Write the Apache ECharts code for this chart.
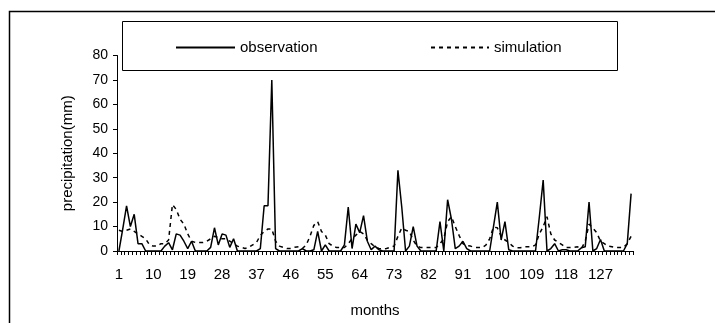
<!DOCTYPE html>
<html>
<head>
<meta charset="utf-8">
<script src="https://cdn.jsdelivr.net/npm/echarts@6/dist/echarts.min.js"></script>
<style>
  html, body { margin: 0; padding: 0; background: #fff; }
  #chart { width: 715px; height: 323px; }
</style>
</head>
<body>
<div id="chart"></div>
<script>
// monthly precipitation, months 1..135
var months = [];
for (var m = 1; m <= 135; m++) months.push(String(m));

var observation = [
    0, 9, 18.5, 10, 15, 3, 3, 0, 0, 0,
    0, 0, 2, 3.4, 0.5, 7, 6.5, 4, 1, 4,
    0, 0, 0, 0, 1.5, 9.5, 2.5, 7, 6.5, 1.5,
    5, 0, 0, 0, 0, 0, 0, 1, 18.5, 18.5,
    70, 1, 0, 0, 0, 0, 0, 0, 1, 0,
    0, 0.5, 8, 0, 2.5, 0, 0, 0, 0, 2.5,
    18, 1, 11, 7.5, 14.5, 4, 0.5, 2, 0.5, 0,
    0, 0, 0, 33, 18, 0, 2, 10, 2, 0,
    0, 0, 0, 0, 12, 0, 21, 13, 1, 2,
    4, 1, 0, 0, 0, 0, 0, 0, 10, 20,
    4.5, 12, 0.5, 0, 0, 0, 0, 0, 0, 0,
    14, 29, 0, 1, 3, 0, 0.5, 0.5, 0, 0,
    0, 1.3, 1.7, 20, 0, 1, 4.7, 0, 0, 0,
    0, 0, 0, 3, 23.5
];

var simulation = [
    8.5, 8, 8.5, 9, 8, 7, 6, 5, 2.5, 2,
    2, 3, 3, 4.5, 19, 17, 13, 11, 7, 4,
    3.5, 3.5, 3.5, 4, 5, 6, 5.5, 5, 5, 4,
    3, 2, 1.5, 1, 1.5, 2.5, 3.5, 6.4, 8, 9,
    9, 4, 2, 1.5, 1, 1, 1.5, 1.7, 1, 2.5,
    6, 10.5, 12, 8, 6.5, 3, 2, 1.4, 1.4, 1.4,
    3, 5, 6.5, 8, 7, 4.4, 3, 1.7, 1, 0.8,
    1, 1.5, 2, 6, 9.4, 8.5, 8, 4.4, 2, 1.4,
    1.4, 1.4, 1.4, 1.4, 3, 5, 12, 14, 10, 6.4,
    3, 2.2, 2, 1.5, 1.4, 1.4, 2.4, 5, 9.8, 9.5,
    6, 4.5, 3.5, 2, 1.3, 1.3, 1.7, 1.7, 1.7, 2.5,
    7, 10, 14, 7, 4.5, 3.5, 2.5, 1.4, 1.4, 1.5,
    1.7, 1, 4, 11, 9.4, 7.5, 4, 3, 2, 1.7,
    1.4, 1.4, 1.4, 3, 6
];

var chartDom = document.getElementById('chart');
var myChart = echarts.init(chartDom, null, { renderer: 'canvas' });
var font = 'Liberation Sans, Arial, sans-serif';

var option = {
    animation: false,
    backgroundColor: '#fff',
    textStyle: { fontFamily: font, color: '#000' },
    graphic: [
        {
            type: 'rect',
            shape: { x: 9.5, y: 11.5, width: 800, height: 400 },
            style: { fill: 'none', stroke: '#000', lineWidth: 1.5 },
            z: 0
        },
        {
            type: 'rect',
            shape: { x: 122.5, y: 21.5, width: 495, height: 49 },
            style: { fill: '#fff', stroke: '#000', lineWidth: 1 },
            z: 10
        }
    ],
    legend: [
        {
            data: ['observation'],
            left: 170,
            top: 35,
            itemWidth: 59,
            itemHeight: 14,
            z: 20,
            itemStyle: { opacity: 0 },
            textStyle: { fontFamily: font, fontSize: 15, color: '#000' }
        },
        {
            data: ['simulation'],
            left: 425,
            top: 35,
            itemWidth: 58,
            itemHeight: 14,
            z: 20,
            itemStyle: { opacity: 0 },
            textStyle: { fontFamily: font, fontSize: 15, color: '#000' }
        }
    ],
    grid: {
        left: 117,
        right: 82,
        top: 55.5,
        bottom: 70.5
    },
    xAxis: {
        type: 'category',
        data: months,
        boundaryGap: true,
        name: 'months',
        nameLocation: 'middle',
        nameGap: 52,
        nameTextStyle: { fontFamily: font, fontSize: 15, color: '#000' },
        axisLine: { lineStyle: { color: '#000', width: 1 } },
        axisTick: { show: true, interval: 0, length: 4, lineStyle: { color: '#000' } },
        axisLabel: {
            interval: 8,
            margin: 16,
            fontFamily: font,
            fontSize: 15,
            color: '#000'
        },
        splitLine: { show: false }
    },
    yAxis: {
        type: 'value',
        min: 0,
        max: 80,
        interval: 10,
        name: 'precipitation(mm)',
        nameLocation: 'middle',
        nameGap: 42,
        nameRotate: 90,
        nameTextStyle: { fontFamily: font, fontSize: 15, color: '#000' },
        axisLine: { show: true, lineStyle: { color: '#000', width: 1 } },
        axisTick: { show: true, length: 4, lineStyle: { color: '#000' } },
        axisLabel: { margin: 9, fontFamily: font, fontSize: 14, color: '#000' },
        splitLine: { show: false }
    },
    series: [
        {
            name: 'observation',
            type: 'line',
            data: observation,
            symbol: 'none',
            color: '#000',
            lineStyle: { color: '#000', width: 1.5, type: 'solid' }
        },
        {
            name: 'simulation',
            type: 'line',
            data: simulation,
            symbol: 'none',
            color: '#000',
            lineStyle: { color: '#000', width: 1.5, type: [4, 4] }
        }
    ]
};

myChart.setOption(option);
</script>
</body>
</html>
